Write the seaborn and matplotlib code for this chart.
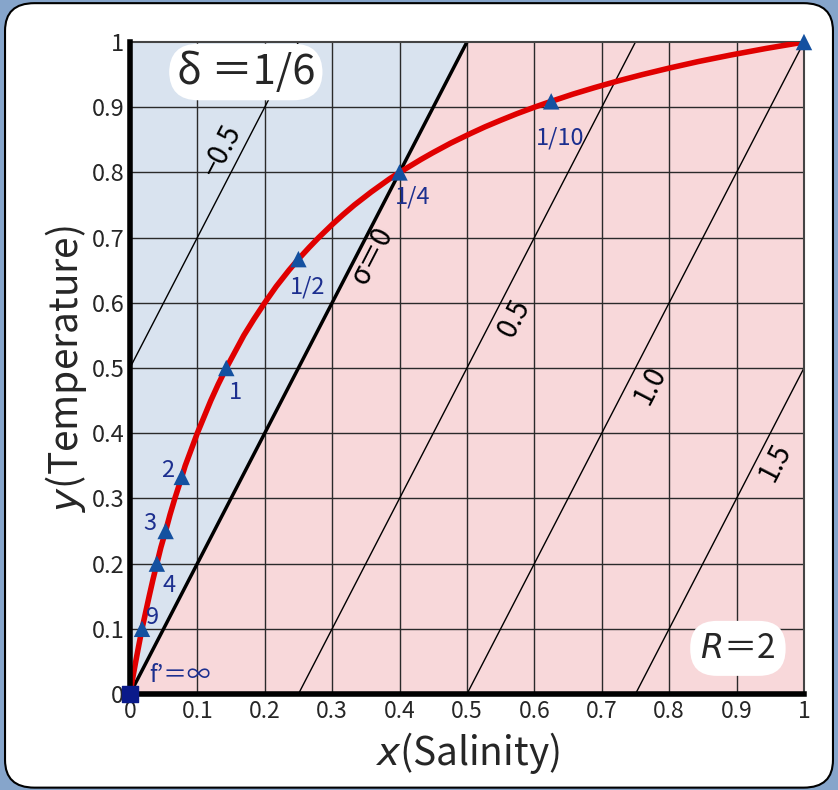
import numpy as np
import pandas as pd
import seaborn as sns
import matplotlib.pyplot as plt
from matplotlib.patches import FancyBboxPatch, Polygon

## DATA ##
# mixing curve (salinity x, temperature y)
curve_x = [0, 0.0043, 0.0087, 0.0133, 0.018, 0.0233, 0.0286, 0.0341, 0.04, 0.046,
           0.053, 0.0595, 0.0667, 0.077, 0.082, 0.091, 0.1, 0.11, 0.12, 0.131,
           0.143, 0.156, 0.169, 0.184, 0.2, 0.217, 0.236, 0.25, 0.266, 0.28,
           0.3, 0.316, 0.333, 0.358, 0.385, 0.4, 0.432, 0.449, 0.476, 0.506,
           0.527, 0.55, 0.574, 0.6, 0.625, 0.657, 0.689, 0.723, 0.76, 0.8,
           0.843, 0.891, 0.943, 1.0]
curve_y = [0, 0.025, 0.05, 0.075, 0.1, 0.125, 0.15, 0.175, 0.2, 0.225,
           0.25, 0.275, 0.3, 0.333, 0.35, 0.375, 0.4, 0.425, 0.45, 0.475,
           0.5, 0.525, 0.55, 0.575, 0.6, 0.625, 0.65, 0.667, 0.685, 0.7,
           0.72, 0.735, 0.75, 0.77, 0.79, 0.8, 0.82, 0.83, 0.845, 0.86,
           0.87, 0.88, 0.89, 0.9, 0.909, 0.92, 0.93, 0.94, 0.95, 0.96,
           0.97, 0.98, 0.99, 1.0]

# triangle markers and their f labels
mark_x = [0.018, 0.04, 0.053, 0.077, 0.143, 0.25, 0.4, 0.625, 1.0]
mark_y = [0.1, 0.2, 0.25, 0.333, 0.5, 0.667, 0.8, 0.909, 1.0]
f_labels = ["9", "4", "3", "2", "1", "1/2", "1/4", "1/10"]
f_lab_x = [0.034, 0.058, 0.03, 0.056, 0.157, 0.264, 0.42, 0.638]
f_lab_y = [0.118, 0.166, 0.262, 0.343, 0.463, 0.624, 0.762, 0.853]

# sigma = R*x - y lines, R = 2
R = 2
sigma_vals = [-0.5, 0.0, 0.5, 1.0, 1.5]
sigma_text = ["\u22120.5", "\u03c3\uff1d0", "0.5", "1.0", "1.5"]
sigma_lab_x = [0.137, 0.36, 0.571, 0.772, 0.957]
sigma_lab_y = [0.834, 0.673, 0.577, 0.474, 0.356]

ticks = [0, 0.1, 0.2, 0.3, 0.4, 0.5, 0.6, 0.7, 0.8, 0.9, 1]
tick_labels = ["0", "0.1", "0.2", "0.3", "0.4", "0.5", "0.6", "0.7", "0.8", "0.9", "1"]

## STYLE ##
sns.set_style("white")
plt.rcParams['font.family'] = ['Noto Sans CJK JP', 'DejaVu Sans']
plt.rcParams['mathtext.fontset'] = 'dejavusans'

blue_fill = '#d9e3ef'
pink_fill = '#f8d8da'
navy_txt = '#1c2f8f'
mark_col = '#1451a0'

fig = plt.figure(figsize=(8.38, 7.9), dpi=100, facecolor='#86a5cb')
# white rounded panel behind everything
panel = FancyBboxPatch((0.006 + 0.035, 0.003 + 0.035), 0.994 - 0.006 - 0.07, 0.996 - 0.003 - 0.07,
                       boxstyle="round,pad=0.035", transform=fig.transFigure,
                       facecolor='white', edgecolor='black', lw=1.5, zorder=-10)
fig.patches.append(panel)

ax = fig.add_axes([0.155, 0.1215, 0.8044, 0.8253])
ax.set_zorder(1)
ax.set_xlim(0, 1)
ax.set_ylim(0, 1)

# background regions split by sigma = 0
ax.add_patch(Polygon([[0, 0], [1 / R, 1], [0, 1]], closed=True, facecolor=blue_fill,
                     edgecolor='none', zorder=0))
ax.add_patch(Polygon([[0, 0], [1, 0], [1, 1], [1 / R, 1]], closed=True, facecolor=pink_fill,
                     edgecolor='none', zorder=0))

# grid
for t in ticks[1:-1]:
    ax.axvline(t, color='#2a2a2a', lw=1, zorder=1)
    ax.axhline(t, color='#2a2a2a', lw=1, zorder=1)

# sigma lines
xs = np.array([0, 1])
for s in sigma_vals:
    ax.plot(xs, R * xs - s, color='black', lw=2.5 if s == 0 else 1, zorder=2)

for s, txt, lx, ly in zip(sigma_vals, sigma_text, sigma_lab_x, sigma_lab_y):
    ax.text(lx, ly, txt, rotation=62.7, rotation_mode='anchor', ha='center', va='center',
            fontsize=20, color='black', zorder=5)

# mixing curve and markers
df_curve = pd.DataFrame({'x': curve_x, 'y': curve_y})
sns.lineplot(data=df_curve, x='x', y='y', sort=False, color='#e00000', lw=4,
             ax=ax, zorder=3, estimator=None)
df_mark = pd.DataFrame({'x': mark_x, 'y': mark_y})
sns.scatterplot(data=df_mark, x='x', y='y', marker='^', s=140, color=mark_col,
                edgecolor='none', ax=ax, zorder=4, clip_on=False)
ax.scatter([0], [0], marker='s', s=120, color='#0a1a8a', zorder=8, clip_on=False)

for lab, lx, ly in zip(f_labels, f_lab_x, f_lab_y):
    ax.text(lx, ly, lab, ha='center', va='center', fontsize=17, color=navy_txt, zorder=5)
ax.text(0.075, 0.028, "f\u2019\uff1d\u221e", ha='center', va='center', fontsize=17,
        color=navy_txt, zorder=5)

# parameter boxes
ax.text(0.172, 0.954, "\u03b4 \uff1d1/6", ha='center', va='center', fontsize=30, zorder=6,
        bbox=dict(boxstyle='round,pad=0.18,rounding_size=0.7', fc='white', ec='none'))
ax.text(0.902, 0.07, r"$R$" + "\uff1d2", ha='center', va='center', fontsize=24, zorder=6,
        bbox=dict(boxstyle='round,pad=0.3,rounding_size=0.8', fc='white', ec='none'))

# axes cosmetics
ax.set_xticks(ticks)
ax.set_xticklabels(tick_labels, fontsize=16.5)
ax.set_yticks(ticks)
ax.set_yticklabels(tick_labels, fontsize=17)
ax.tick_params(length=0, pad=4)
ax.set_xlabel(r"$x$" + "(Salinity)", fontsize=28, labelpad=5)
ax.set_ylabel(r"$y$" + "(Temperature)", fontsize=28, labelpad=2)
for side in ['left', 'bottom']:
    ax.spines[side].set_linewidth(4)
    ax.spines[side].set_color('black')
    ax.spines[side].set_zorder(7)
for side in ['top', 'right']:
    ax.spines[side].set_linewidth(1.5)
    ax.spines[side].set_color('#444444')

fig.savefig('out.png', dpi=100, facecolor=fig.get_facecolor())
